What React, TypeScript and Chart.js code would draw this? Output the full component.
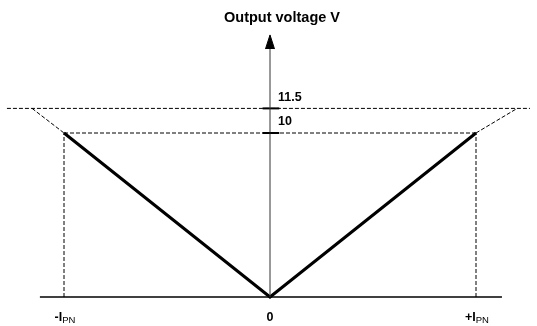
import React, { useEffect, useRef } from "react";
import { Chart, registerables } from "chart.js";

Chart.register(...registerables);

// Current axis (in units of I_PN) and output voltage axis (V)
const currentTicks = [-1, 0, 1];
const currentTickMain = ["-I", "0", "+I"];
const currentTickSub = ["PN", "", "PN"];
const voltageTicks = [11.5, 10];
const voltageTickLabels = ["11.5", "10"];

// Output characteristic (V-shape)
const curveX = [-1, 0, 1];
const curveY = [10, 0, 10];

// Limit construction lines
const limitLeftX = [-1.155, -1];
const limitLeftY = [11.5, 10];
const limitRightX = [1, 1.2];
const limitRightY = [10, 11.5];
const maxLineX = [-1.277, 1.262];
const limitLineX = [-1, 1];
const baselineX = [-1.117, 1.126];
const axisTop = 15.12;
const arrowTip = 15.98;
const arrowHalf = 0.022;
const tickHalfLeft = -0.036;
const tickHalfRight = 0.045;

const xMin = -270 / 206;
const xMax = 267 / 206;
const yMin = -29 / 16.4;
const yMax = 297 / 16.4;

const pts = (xs: number[], ys: number[]) => xs.map((x, i) => ({ x, y: ys[i] }));

const textPlugin = {
  id: "textPlugin",
  afterDraw(chart: any) {
    const ctx = chart.ctx;
    const xs = chart.scales.x;
    const ys = chart.scales.y;
    const x0 = xs.getPixelForValue(0);
    ctx.save();
    ctx.fillStyle = "#000";
    // title
    ctx.font = "bold 14.5px 'Liberation Sans', Arial, sans-serif";
    ctx.textAlign = "center";
    ctx.textBaseline = "middle";
    ctx.fillText("Output voltage V", x0 + 12, 18);
    // voltage tick labels
    ctx.font = "bold 12.5px 'Liberation Sans', Arial, sans-serif";
    ctx.textAlign = "left";
    voltageTicks.forEach((v, i) => {
      ctx.fillText(voltageTickLabels[i], x0 + 8, ys.getPixelForValue(v) - 11);
    });
    // current tick labels
    const yb = ys.getPixelForValue(0) + 20;
    currentTicks.forEach((v, i) => {
      const px = xs.getPixelForValue(v);
      ctx.font = "bold 12.5px 'Liberation Sans', Arial, sans-serif";
      const wMain = ctx.measureText(currentTickMain[i]).width;
      ctx.font = "9.5px 'Liberation Sans', Arial, sans-serif";
      const wSub = currentTickSub[i] ? ctx.measureText(currentTickSub[i]).width : 0;
      const start = px - (wMain + wSub) / 2 + (currentTickSub[i] ? 1 : 0);
      ctx.textAlign = "left";
      ctx.textBaseline = "alphabetic";
      ctx.font = "bold 12.5px 'Liberation Sans', Arial, sans-serif";
      ctx.fillText(currentTickMain[i], start, yb + 4);
      if (currentTickSub[i]) {
        ctx.font = "9.5px 'Liberation Sans', Arial, sans-serif";
        ctx.fillText(currentTickSub[i], start + wMain, yb + 6);
      }
    });
    ctx.restore();
  },
};

export default function App() {
  const ref = useRef<HTMLCanvasElement | null>(null);
  useEffect(() => {
    if (!ref.current) return;
    const dash = [4, 2];
    const dashed = (data: any[]) => ({
      data,
      borderColor: "#000",
      borderWidth: 1,
      borderDash: dash,
      showLine: true,
      pointRadius: 0,
      fill: false,
    });
    const solid = (data: any[], w: number, color = "#000") => ({
      data,
      borderColor: color,
      borderWidth: w,
      showLine: true,
      pointRadius: 0,
      fill: false,
    });
    const chart = new Chart(ref.current, {
      type: "scatter",
      data: {
        datasets: [
          dashed(pts(maxLineX, [11.5, 11.5])),
          dashed(pts(limitLineX, [10, 10])),
          dashed(pts(limitLeftX, limitLeftY)),
          dashed(pts(limitRightX, limitRightY)),
          dashed(pts([-1, -1], [0, 10])),
          dashed(pts([1, 1], [0, 10])),
          solid(pts([0, 0], [0, axisTop]), 1, "#333"),
          {
            data: pts([-arrowHalf, 0, arrowHalf], [axisTop, arrowTip, axisTop]),
            borderColor: "#000",
            backgroundColor: "#000",
            borderWidth: 1,
            showLine: true,
            pointRadius: 0,
            fill: { value: axisTop },
          },
          solid(pts([tickHalfLeft, tickHalfRight], [11.5, 11.5]), 2),
          solid(pts([tickHalfLeft, tickHalfRight], [10, 10]), 2),
          solid(pts(baselineX, [0, 0]), 1.5),
          solid(pts(curveX, curveY), 3),
        ] as any,
      },
      options: {
        animation: false,
        responsive: false,
        maintainAspectRatio: false,
        layout: { padding: 0 },
        plugins: { legend: { display: false }, tooltip: { enabled: false }, title: { display: false } },
        elements: { line: { tension: 0, borderJoinStyle: "miter" } },
        scales: {
          x: { type: "linear", min: xMin, max: xMax, display: false },
          y: { type: "linear", min: yMin, max: yMax, display: false },
        },
      } as any,
      plugins: [textPlugin],
    });
    return () => chart.destroy();
  }, []);
  return (
    <div style={{ position: "fixed", left: 0, top: 0, width: 537, height: 326, background: "#fff" }}>
      <canvas ref={ref} width={537} height={326} style={{ width: 537, height: 326 }} />
    </div>
  );
}
